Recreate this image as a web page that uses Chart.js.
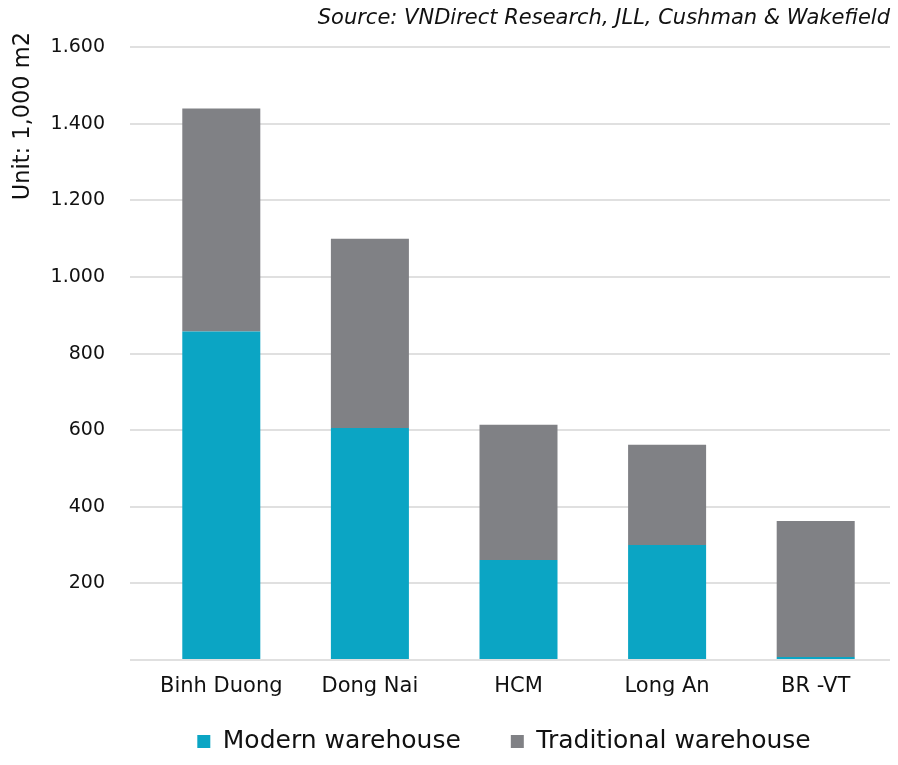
<!DOCTYPE html>
<html>
<head>
<meta charset="utf-8">
<script src="https://cdn.jsdelivr.net/npm/chart.js@4.4.1/dist/chart.umd.min.js"></script>
<style>
  html, body { margin: 0; padding: 0; background: #ffffff; }
  #wrap { width: 898px; height: 765px; position: relative; }
</style>
</head>
<body>
<div id="wrap"><canvas id="c"></canvas></div>
<script>
const categories = ["Binh Duong", "Dong Nai", "HCM", "Long An", "BR -VT"];
const modernWarehouse = [858, 606, 261, 300, 8];
const traditionalWarehouse = [582, 494, 353, 262, 355];
const yTicks = [0, 200, 400, 600, 800, 1000, 1200, 1400, 1600];
const seriesNames = ["Modern warehouse", "Traditional warehouse"];
const sourceText = "Source: VNDirect Research, JLL, Cushman & Wakefield";
const yTitle = "Unit: 1,000 m2";

const FONT = "'DejaVu Sans', sans-serif";

const yTitlePlugin = {
  id: 'yTitlePlugin',
  afterDraw(chart) {
    const ctx = chart.ctx;
    ctx.save();
    ctx.translate(29, 32);
    ctx.rotate(-Math.PI / 2);
    ctx.font = "22.5px " + FONT;
    ctx.fillStyle = "#111111";
    ctx.textAlign = "right";
    ctx.textBaseline = "alphabetic";
    ctx.fillText(yTitle, 0, 0);
    ctx.restore();
  }
};

const layoutTweakPlugin = {
  id: 'layoutTweak',
  afterLayout(chart) {
    if (chart.legend) {
      chart.legend.left += 59;
      chart.legend.right += 59;
    }
    const x = chart.scales.x;
    if (x) { x.bottom = x.top + 60; }
  }
};

new Chart(document.getElementById('c'), {
  type: 'bar',
  data: {
    labels: categories,
    datasets: [
      { label: seriesNames[0], data: modernWarehouse, backgroundColor: '#0BA5C4', borderWidth: 0 },
      { label: seriesNames[1], data: traditionalWarehouse, backgroundColor: '#808185', borderWidth: 0 }
    ]
  },
  options: {
    responsive: true,
    maintainAspectRatio: false,
    animation: false,
    devicePixelRatio: 1,
    layout: { padding: { left: 0, right: 8, top: 0, bottom: 1 } },
    datasets: { bar: { categoryPercentage: 1.0, barPercentage: 0.525 } },
    plugins: {
      tooltip: { enabled: false },
      title: {
        display: true,
        text: sourceText,
        align: 'end',
        color: '#111111',
        font: { family: FONT, size: 21, style: 'italic', weight: 'normal' },
        padding: { top: 6, bottom: 16 }
      },
      legend: {
        display: true,
        position: 'bottom',
        labels: {
          color: '#111111',
          font: { family: FONT, size: 25 },
          boxWidth: 13,
          boxHeight: 13,
          padding: 50
        }
      }
    },
    scales: {
      x: {
        stacked: true,
        grid: { display: false, drawTicks: false },
        border: { display: false },
        afterFit(scale) { scale.height = 19; },
        ticks: { color: '#111111', font: { family: FONT, size: 21 }, padding: 14, maxRotation: 0 }
      },
      y: {
        stacked: true,
        min: 0,
        max: 1600,
        afterBuildTicks(scale) { scale.ticks = yTicks.map(v => ({ value: v })); },
        afterFit(scale) { scale.width = 147; },
        grid: { color: '#E0E0E0', lineWidth: 2, drawTicks: true, tickLength: 17, tickColor: '#E0E0E0' },
        border: { display: false },
        ticks: {
          color: '#111111',
          font: { family: FONT, size: 19 },
          padding: 25,
          callback: (v) => v === 0 ? '' : v.toLocaleString('de-DE')
        }
      }
    }
  },
  plugins: [yTitlePlugin, layoutTweakPlugin]
});
</script>
</body>
</html>
